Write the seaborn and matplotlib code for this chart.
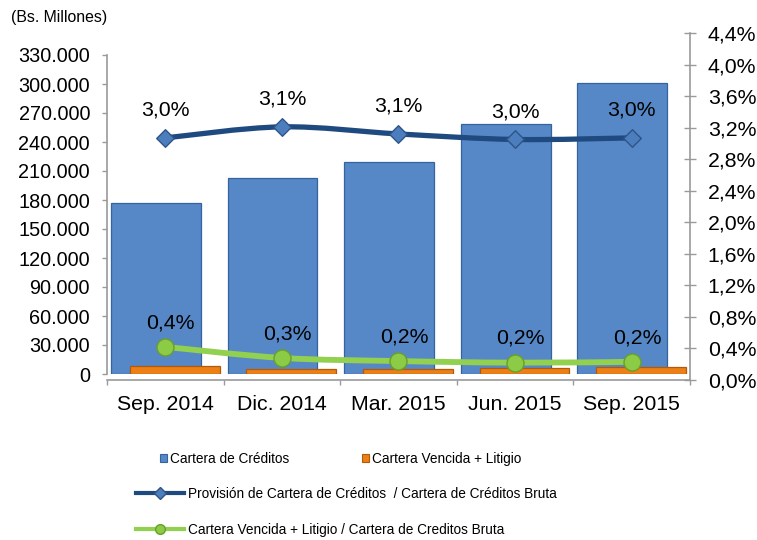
import numpy as np
import pandas as pd
import matplotlib
matplotlib.use("Agg")
import matplotlib.pyplot as plt
import seaborn as sns
from matplotlib.path import Path
from matplotlib.patches import PathPatch, Patch
from matplotlib.lines import Line2D

# ---------------- data ----------------
categories = ["Sep. 2014", "Dic. 2014", "Mar. 2015", "Jun. 2015", "Sep. 2015"]
cartera_creditos = [177400, 202600, 219200, 258600, 301000]
cartera_vencida = [8300, 5200, 4900, 5900, 6900]
provision_pct = [3.07, 3.21, 3.12, 3.05, 3.07]
vencida_pct = [0.42, 0.28, 0.24, 0.22, 0.23]
provision_labels = ["3,0%", "3,1%", "3,1%", "3,0%", "3,0%"]
vencida_labels = ["0,4%", "0,3%", "0,2%", "0,2%", "0,2%"]
left_ticks = [0, 30000, 60000, 90000, 120000, 150000, 180000, 210000, 240000, 270000, 300000, 330000]
left_tick_labels = ["0", "30.000", "60.000", "90.000", "120.000", "150.000", "180.000",
                    "210.000", "240.000", "270.000", "300.000", "330.000"]
right_ticks = [0.0, 0.4, 0.8, 1.2, 1.6, 2.0, 2.4, 2.8, 3.2, 3.6, 4.0, 4.4]
right_tick_labels = ["0,0%", "0,4%", "0,8%", "1,2%", "1,6%", "2,0%", "2,4%", "2,8%",
                     "3,2%", "3,6%", "4,0%", "4,4%"]
legend_labels = ["Cartera de Créditos", "Cartera Vencida + Litigio",
                 "Provisión de Cartera de Créditos  / Cartera de Créditos Bruta",
                 "Cartera Vencida + Litigio / Cartera de Creditos Bruta"]

# ---------------- style ----------------
plt.rcParams["font.family"] = ["Liberation Sans", "DejaVu Sans"]
BAR_BLUE = "#5688C8"
BAR_BLUE_EDGE = "#34639F"
BAR_ORANGE = "#EC7F16"
BAR_ORANGE_EDGE = "#B15A0C"
LINE_BLUE = "#1F4A7F"
DIAMOND = "#4C7DBD"
LINE_GREEN = "#92D050"
SPHERE = "#8CCB45"
SPHERE_EDGE = "#6A9E2C"
AXIS_GRAY = "#9A9A9A"

W, H = 757, 540
fig = plt.figure(figsize=(W / 100, H / 100), dpi=100)
fig.patch.set_facecolor("white")

# left (bars) axes and right (ratio) axes
ax = fig.add_axes([107 / W, 1 - 374 / H, (690 - 107) / W, (374 - 55) / H])
ax2 = fig.add_axes([107 / W, 1 - 380 / H, (690 - 107) / W, (380 - 33) / H])
ax2.patch.set_visible(False)

n = len(categories)
xpos = np.arange(n)
bar_df = pd.DataFrame({"x": xpos, "cartera": cartera_creditos, "vencida": cartera_vencida})

sns.barplot(x=bar_df["x"] - 0.08, y=bar_df["cartera"], native_scale=True, width=0.77,
            orient="x", errorbar=None, color=BAR_BLUE, edgecolor=BAR_BLUE_EDGE,
            linewidth=0.9, saturation=1, ax=ax, zorder=2)
sns.barplot(x=bar_df["x"] + 0.08, y=bar_df["vencida"], native_scale=True, width=0.77,
            orient="x", errorbar=None, color=BAR_ORANGE, edgecolor=BAR_ORANGE_EDGE,
            linewidth=0.9, saturation=1, ax=ax, zorder=3)

ax.set_xlim(-0.5, n - 0.5)
ax.set_ylim(0, 330000)
ax.set_xlabel("")
ax.set_ylabel("")
ax.set_xticks([])
ax.set_yticks(left_ticks)
ax.set_yticklabels(left_tick_labels, fontsize=14.3)
ax.tick_params(axis="y", direction="out", length=3.8, width=1, color=AXIS_GRAY, pad=8.4)
for s in ["top", "right", "bottom"]:
    ax.spines[s].set_visible(False)
ax.spines["left"].set_color(AXIS_GRAY)
ax.spines["left"].set_linewidth(1.2)
ax.patch.set_visible(False)


def smooth_path(xs, ys):
    pts = np.column_stack([xs, ys]).astype(float)
    verts = [pts[0]]
    codes = [Path.MOVETO]
    m = len(pts)
    for i in range(m - 1):
        p0 = pts[i - 1] if i > 0 else pts[i]
        p1 = pts[i]
        p2 = pts[i + 1]
        p3 = pts[i + 2] if i + 2 < m else pts[i + 1]
        verts += [p1 + (p2 - p0) / 6, p2 - (p3 - p1) / 6, p2]
        codes += [Path.CURVE4] * 3
    return Path(verts, codes)


# right axis lines
ax2.add_patch(PathPatch(smooth_path(xpos, provision_pct), facecolor="none",
                        edgecolor=LINE_BLUE, lw=3.8, capstyle="round", joinstyle="round", zorder=3))
ax2.add_patch(PathPatch(smooth_path(xpos, vencida_pct), facecolor="none",
                        edgecolor=LINE_GREEN, lw=4.2, capstyle="round", joinstyle="round", zorder=3))
line_df = pd.DataFrame({"x": xpos, "prov": provision_pct, "venc": vencida_pct})
sns.scatterplot(data=line_df, x="x", y="prov", marker="D", s=80, color=DIAMOND,
                edgecolor="#2E5488", linewidth=1.0, ax=ax2, zorder=4, legend=False)
sns.scatterplot(data=line_df, x="x", y="venc", marker="o", s=150, color=SPHERE,
                edgecolor=SPHERE_EDGE, linewidth=1.0, ax=ax2, zorder=4, legend=False)

for i in range(n):
    ax2.annotate(provision_labels[i], (xpos[i], provision_pct[i]), xytext=(0, 20),
                 textcoords="offset points", ha="center", va="center", fontsize=15.3, zorder=5)
    ax2.annotate(vencida_labels[i], (xpos[i], vencida_pct[i]), xytext=(4, 17.5),
                 textcoords="offset points", ha="center", va="center", fontsize=15.3, zorder=5)

ax2.set_xlim(-0.5, n - 0.5)
ax2.set_ylim(0, 4.4)
ax2.set_xlabel("")
ax2.set_ylabel("")
ax2.yaxis.tick_right()
ax2.set_yticks(right_ticks)
ax2.set_yticklabels(right_tick_labels, fontsize=15.3)
ax2.tick_params(axis="y", direction="inout", length=9, width=1, color=AXIS_GRAY, pad=8.2)
ax2.set_xticks(np.arange(n + 1) - 0.5)
ax2.set_xticklabels([])
ax2.set_xticks(xpos, minor=True)
ax2.set_xticklabels(categories, minor=True, fontsize=15.3)
ax2.tick_params(axis="x", which="major", direction="out", length=3.8, width=1, color=AXIS_GRAY)
ax2.tick_params(axis="x", which="minor", length=0, pad=11)
for s in ["top", "left"]:
    ax2.spines[s].set_visible(False)
for s in ["right", "bottom"]:
    ax2.spines[s].set_color(AXIS_GRAY)
    ax2.spines[s].set_linewidth(1.2)

fig.text(11 / W, 1 - 17.5 / H, "(Bs. Millones)", fontsize=11.4, ha="left", va="center")

# legends
common = dict(frameon=False, fontsize=9.8, borderpad=0, borderaxespad=0, loc="center left")
leg1 = fig.legend(handles=[Patch(facecolor=BAR_BLUE, edgecolor=BAR_BLUE_EDGE, lw=0.8),
                           Patch(facecolor=BAR_ORANGE, edgecolor=BAR_ORANGE_EDGE, lw=0.8)],
                  labels=legend_labels[:2], ncol=2, handlelength=0.55, handleheight=0.55,
                  handletextpad=0.2, columnspacing=5.3,
                  bbox_to_anchor=(160 / W, 1 - 459 / H), **common)
leg2 = fig.legend(handles=[Line2D([], [], color=LINE_BLUE, lw=3, marker="D", ms=6,
                                  mfc=DIAMOND, mec="#2E5488")],
                  labels=[legend_labels[2]], handlelength=3.5, handletextpad=0.31,
                  bbox_to_anchor=(136 / W, 1 - 494 / H), **common)
leg3 = fig.legend(handles=[Line2D([], [], color=LINE_GREEN, lw=3, marker="o", ms=7,
                                  mfc=SPHERE, mec=SPHERE_EDGE)],
                  labels=[legend_labels[3]], handlelength=3.5, handletextpad=0.31,
                  bbox_to_anchor=(136 / W, 1 - 530 / H), **common)

fig.savefig("out.png", dpi=100, facecolor="white")
